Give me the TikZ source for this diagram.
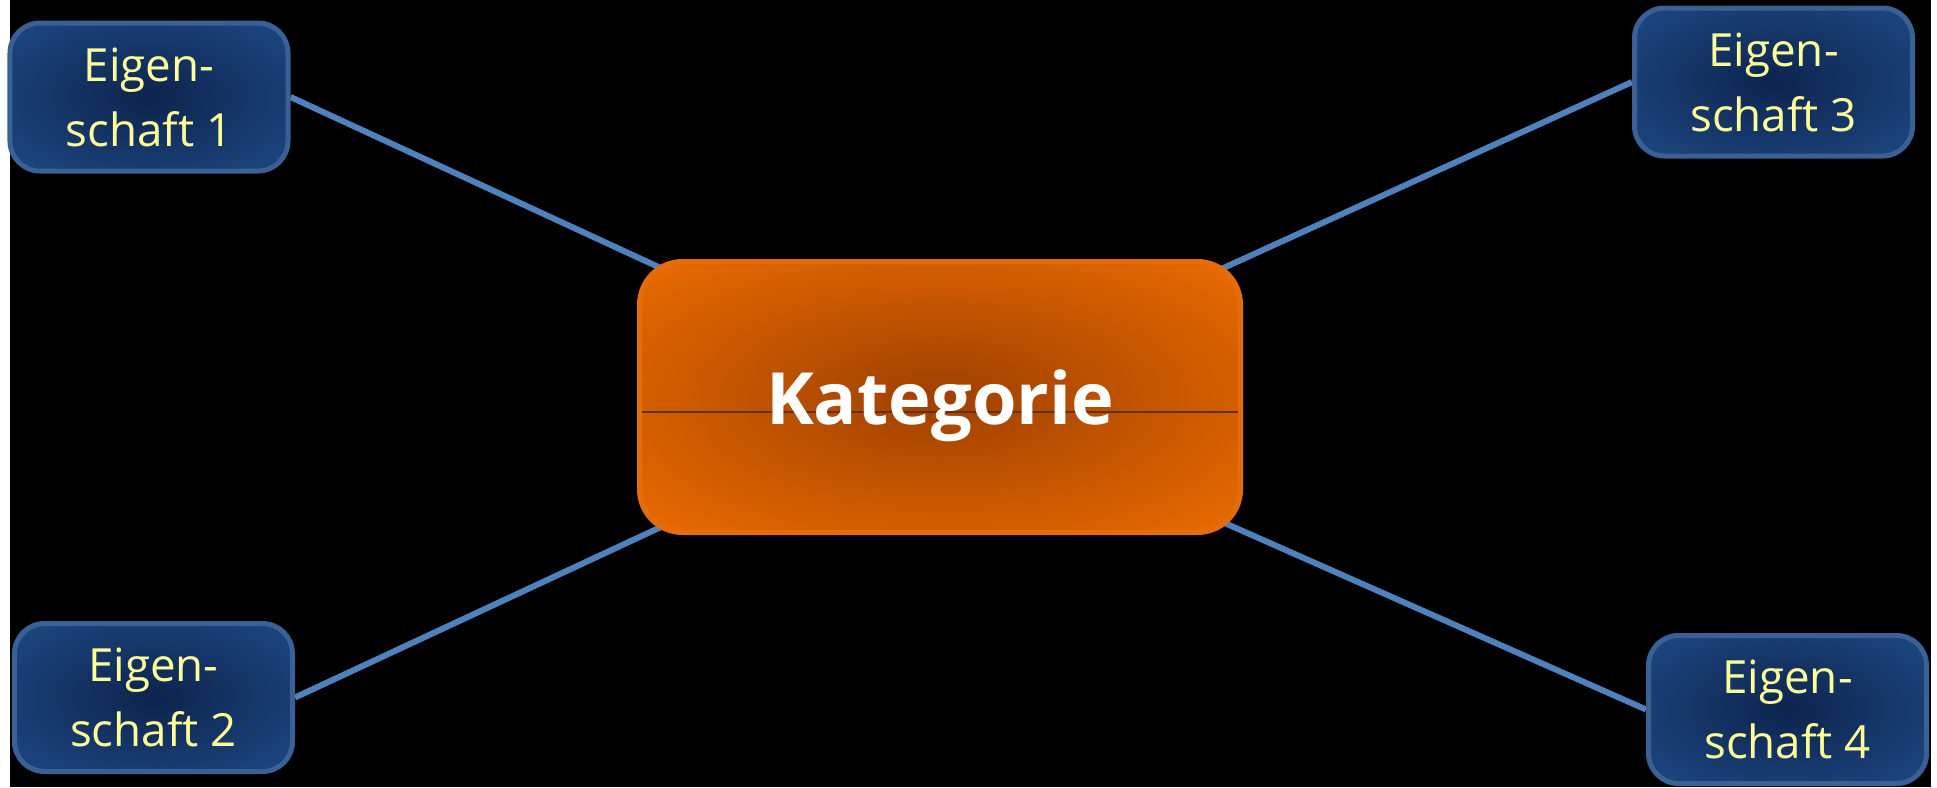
\documentclass[tikz,border=0pt]{standalone}
\usepackage{fontspec}
\setmainfont{Open Sans}
\usetikzlibrary{positioning,backgrounds}

\definecolor{propdark}{RGB}{13,36,78}
\definecolor{propedge}{RGB}{29,72,130}
\definecolor{propline}{RGB}{59,96,148}
\definecolor{proptext}{RGB}{255,255,153}
\definecolor{katdark}{RGB}{158,64,0}
\definecolor{katedge}{RGB}{234,107,0}
\definecolor{katline}{RGB}{228,108,10}
\definecolor{katrule}{RGB}{95,50,15}
\definecolor{linkblue}{RGB}{79,129,189}

\pgfdeclareradialshading{propshade}{\pgfpoint{0bp}{0bp}}{color(0bp)=(propdark); color(35bp)=(propedge); color(50bp)=(propedge)}
\pgfdeclareradialshading{katshade}{\pgfpoint{0bp}{0bp}}{color(0bp)=(katdark); color(35bp)=(katedge); color(50bp)=(katedge)}

\begin{document}
\begin{tikzpicture}[on grid, auto,
    prop/.style={draw=propline, line width=0.5mm, rounded corners=3mm,
      shading=propshade,
      minimum width=2.78cm, minimum height=1.48cm, align=center,
      text=proptext, font=\fontsize{13}{18.5}\selectfont},
    kat/.style={draw=katline, line width=0.5mm, rounded corners=4.3mm,
      shading=katshade,
      minimum width=6.01cm, minimum height=2.71cm, text depth=0pt,
      text=white, font=\bfseries\fontsize{20.5}{25}\selectfont,
      path picture={\draw[katrule, line width=0.5pt]
        ([yshift=-1.5mm]path picture bounding box.west) --
        ([yshift=-1.5mm]path picture bounding box.east);}},
    link/.style={draw=linkblue, line width=0.6mm}]
  \useasboundingbox (0,0) rectangle (19.37,7.87);
  \node[kat] (kat) at (9.40,3.90) {Kategorie};
  \node[prop, above left=3cm and 7.91cm of kat] (e1) {Eigen-\\schaft 1};
  \node[prop, below left=3.005cm and 7.865cm of kat] (e2) {Eigen-\\schaft 2};
  \node[prop, above right=3.15cm and 8.335cm of kat] (e3) {Eigen-\\schaft 3};
  \node[prop, below right=3.125cm and 8.475cm of kat] (e4) {Eigen-\\schaft 4};
  \begin{scope}[on background layer]
    \fill[black] (0.10,0) rectangle (19.31,7.87);
    \path[link] (e1.east) edge (kat.center);
    \path[link] (e2.east) edge (kat.center);
    \path[link] (e3.west) edge (kat.center);
    \path[link] (e4.west) edge (kat.center);
  \end{scope}
\end{tikzpicture}
\end{document}
